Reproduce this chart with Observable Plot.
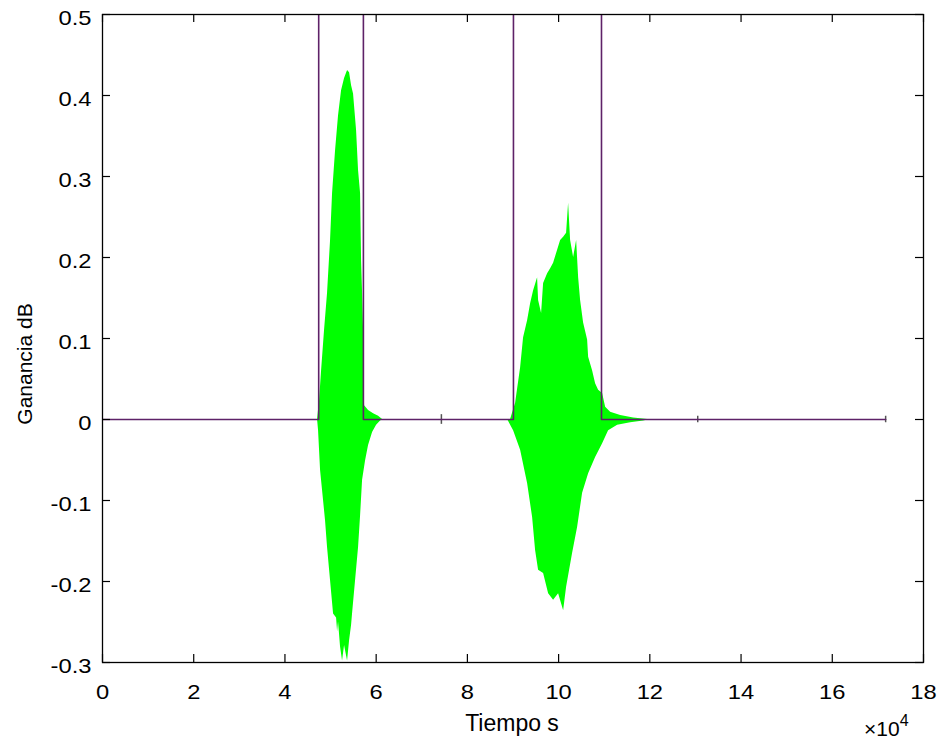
<!DOCTYPE html>
<html>
<head>
<meta charset="utf-8">
<script src="https://cdn.jsdelivr.net/npm/d3@7"></script>
<script src="https://cdn.jsdelivr.net/npm/@observablehq/plot@0.6"></script>
<style>
  html, body { margin: 0; padding: 0; background: #fff; }
  #chart { width: 944px; height: 744px; }
</style>
</head>
<body>
<div id="chart"></div>
<script>
// Axis ticks (x in units of 10^4 samples)
const xTicks = [0, 2, 4, 6, 8, 10, 12, 14, 16, 18];
const yTicks = [-0.3, -0.2, -0.1, 0, 0.1, 0.2, 0.3, 0.4, 0.5];
const yTickLabels = ["-0.3", "-0.2", "-0.1", "0", "0.1", "0.2", "0.3", "0.4", "0.5"];

// Burst 1 envelope (time x10^4, gain)
const burst1UpperX = [4.715, 4.737, 4.759, 4.803, 4.868, 4.934, 5.0, 5.044, 5.110, 5.175, 5.241, 5.307, 5.373, 5.417, 5.461, 5.504, 5.570, 5.614, 5.658, 5.680, 5.702, 5.724, 5.735, 5.746, 5.833, 5.943, 6.053, 6.140];
const burst1UpperY = [0, 0.012, 0.023, 0.060, 0.110, 0.156, 0.221, 0.279, 0.332, 0.375, 0.406, 0.421, 0.431, 0.428, 0.412, 0.402, 0.357, 0.307, 0.279, 0.196, 0.156, 0.110, 0.036, 0.017, 0.011, 0.007, 0.004, 0];
const burst1LowerX = [4.715, 4.737, 4.781, 4.825, 4.890, 4.934, 5.0, 5.066, 5.132, 5.154, 5.175, 5.219, 5.263, 5.307, 5.373, 5.417, 5.461, 5.482, 5.548, 5.614, 5.658, 5.702, 5.768, 5.833, 5.921, 6.009, 6.096, 6.150];
const burst1LowerY = [0, -0.014, -0.063, -0.088, -0.125, -0.158, -0.199, -0.240, -0.245, -0.262, -0.250, -0.281, -0.298, -0.279, -0.298, -0.273, -0.254, -0.240, -0.199, -0.158, -0.119, -0.075, -0.051, -0.032, -0.016, -0.007, -0.002, 0];

// Burst 2 envelope
const burst2UpperX = [8.947, 9.057, 9.167, 9.232, 9.320, 9.386, 9.452, 9.539, 9.561, 9.627, 9.671, 9.759, 9.825, 9.890, 9.978, 10.044, 10.110, 10.175, 10.219, 10.263, 10.329, 10.395, 10.439, 10.482, 10.548, 10.636, 10.658, 10.746, 10.811, 10.877, 10.965, 11.031, 11.140, 11.360, 11.645, 11.952];
const burst2UpperY = [0, 0.020, 0.064, 0.101, 0.122, 0.143, 0.159, 0.175, 0.147, 0.131, 0.168, 0.180, 0.186, 0.193, 0.209, 0.221, 0.225, 0.230, 0.267, 0.221, 0.200, 0.221, 0.175, 0.147, 0.119, 0.098, 0.077, 0.060, 0.044, 0.036, 0.032, 0.015, 0.009, 0.005, 0.002, 0];
const burst2LowerX = [8.882, 9.013, 9.167, 9.320, 9.430, 9.496, 9.561, 9.671, 9.781, 9.890, 10.0, 10.110, 10.175, 10.307, 10.417, 10.526, 10.658, 10.811, 10.965, 11.096, 11.294, 11.579, 11.864, 12.0];
const burst2LowerY = [0, -0.014, -0.038, -0.079, -0.121, -0.162, -0.186, -0.190, -0.215, -0.223, -0.215, -0.236, -0.207, -0.165, -0.133, -0.091, -0.067, -0.047, -0.030, -0.014, -0.007, -0.004, -0.002, 0];

// Segment markers (start/end of detected words), signal end
const markerStarts = [4.74, 9.01];
const markerEnds = [5.72, 10.94];
const markerHigh = 1;
const signalEnd = 17.17;

// Small isolated clicks
const blipX = [7.43, 13.05, 17.17];
const blipAmp = [0.006, 0.004, 0.004];

const toPts = (xs, ys) => xs.map((x, i) => ({x, y: ys[i]}));

const markerPath = [{x: 0, y: 0}];
markerStarts.forEach((s, i) => {
  markerPath.push({x: s, y: 0}, {x: s, y: markerHigh}, {x: markerEnds[i], y: markerHigh}, {x: markerEnds[i], y: 0});
});
markerPath.push({x: signalEnd, y: 0});

const blips = blipX.map((x, i) => ({x, a: blipAmp[i]}));

const GREEN = "#00ff00";
const PURPLE = "#5e2268";
const fontFamily = "'Liberation Sans', Arial, Helvetica, sans-serif";

const W = 944, H = 744, ML = 102, MR = 21, MT = 14, MB = 82;
const innerW = W - ML - MR, innerH = H - MT - MB, TICK = 8;

const chart = Plot.plot({
  width: W,
  height: H,
  marginLeft: ML,
  marginRight: MR,
  marginTop: MT,
  marginBottom: MB,
  style: {fontFamily, fontSize: "21px", background: "#fff", color: "#000", overflow: "visible"},
  x: {domain: [0, 18], ticks: xTicks},
  y: {domain: [-0.3, 0.5], ticks: yTicks},
  marks: [
    Plot.areaY(toPts(burst1UpperX, burst1UpperY), {x: "x", y: "y", fill: GREEN}),
    Plot.areaY(toPts(burst1LowerX, burst1LowerY), {x: "x", y: "y", fill: GREEN}),
    Plot.areaY(toPts(burst2UpperX, burst2UpperY), {x: "x", y: "y", fill: GREEN}),
    Plot.areaY(toPts(burst2LowerX, burst2LowerY), {x: "x", y: "y", fill: GREEN}),
    Plot.ruleX(blips, {x: "x", y1: d => -d.a, y2: d => d.a, stroke: "#555", strokeWidth: 1.5}),
    Plot.line(markerPath, {x: "x", y: "y", stroke: PURPLE, strokeWidth: 1.6, clip: true}),
    // inward ticks on all four sides
    Plot.ruleX(xTicks, {x: d => d, insetTop: innerH - TICK, stroke: "#000", strokeWidth: 1.2}),
    Plot.ruleX(xTicks, {x: d => d, insetBottom: innerH - TICK, stroke: "#000", strokeWidth: 1.2}),
    Plot.ruleY(yTicks, {y: d => d, insetRight: innerW - TICK, stroke: "#000", strokeWidth: 1.2}),
    Plot.ruleY(yTicks, {y: d => d, insetLeft: innerW - TICK, stroke: "#000", strokeWidth: 1.2}),
    Plot.frame({stroke: "#000", strokeWidth: 1.3}),
    Plot.axisX(xTicks, {anchor: "bottom", tickSize: 0, tickPadding: 22, label: null, fontSize: 21, tickFormat: d => String(d)}),
    Plot.axisY(yTicks, {anchor: "left", tickSize: 0, tickPadding: 11, label: null, fontSize: 21, dy: 4,
      tickFormat: d => yTickLabels[yTicks.findIndex(t => Math.abs(t - d) < 1e-9)]})
  ]
});

document.getElementById("chart").appendChild(chart);

// Slightly widen tick labels to match the stretched look of the original
d3.select(chart).selectAll('g[aria-label$="tick label"] text').each(function () {
  const len = this.getComputedTextLength();
  if (len > 0) {
    this.setAttribute("textLength", (len * 1.13).toFixed(1));
    this.setAttribute("lengthAdjust", "spacingAndGlyphs");
  }
});

// Axis titles and exponent
const svg = d3.select(chart);
svg.append("text")
  .attr("x", 512).attr("y", 731)
  .attr("text-anchor", "middle")
  .attr("font-family", fontFamily).attr("font-size", 23)
  .attr("fill", "#000")
  .text("Tiempo s");
svg.append("text")
  .attr("transform", "translate(32,364) rotate(-90)")
  .attr("text-anchor", "middle")
  .attr("font-family", fontFamily).attr("font-size", 21)
  .attr("fill", "#000")
  .text("Ganancia dB");
const expo = svg.append("text")
  .attr("x", 864).attr("y", 736)
  .attr("text-anchor", "start")
  .attr("font-family", fontFamily).attr("font-size", 21)
  .attr("fill", "#000");
expo.append("tspan").text("×10");
expo.append("tspan").attr("dy", -10).attr("font-size", 16).text("4");
</script>
</body>
</html>
